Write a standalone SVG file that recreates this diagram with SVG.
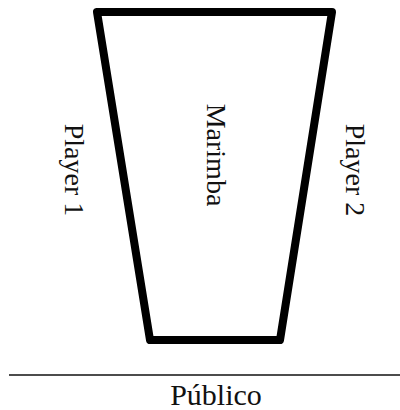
<svg xmlns="http://www.w3.org/2000/svg" width="400" height="410" viewBox="0 0 400 410">
<style>
.t{font-family:"Liberation Serif","Times New Roman",serif;font-size:28px;fill:#111}
</style>
<rect width="400" height="410" fill="#fff"/>
<g id="marimba">
<polygon points="97,12 332,12 280,340 150,340" fill="none" stroke="#000" stroke-width="8" stroke-linejoin="round"/>
<text class="t" transform="translate(207,155) rotate(90)" text-anchor="middle">Marimba</text>
</g>
<g id="player1">
<text class="t" transform="translate(64.5,170) rotate(90)" text-anchor="middle">Player 1</text>
</g>
<g id="player2">
<text class="t" transform="translate(346,170) rotate(90)" text-anchor="middle">Player 2</text>
</g>
<g id="connectors">
<line x1="9" y1="375" x2="400" y2="375" stroke="#111" stroke-width="1.6"/>
</g>
<g id="publico">
<text class="t" x="216" y="405" text-anchor="middle" style="font-size:30px">Público</text>
</g>
</svg>
